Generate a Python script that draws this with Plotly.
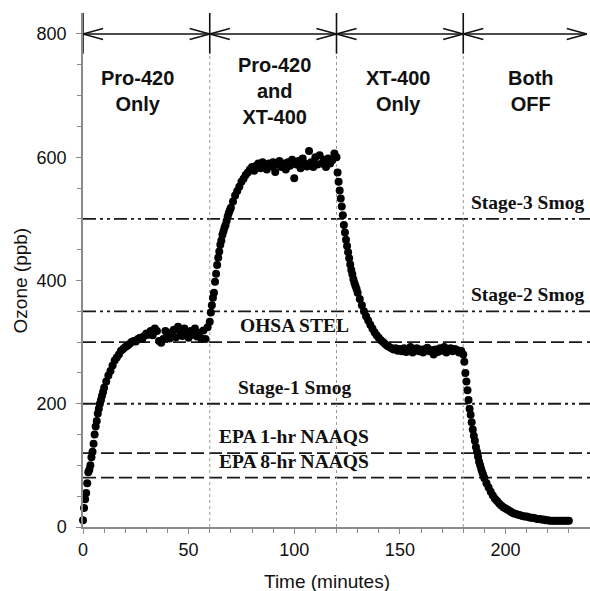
import plotly.graph_objects as go

# ---------------- data ----------------
# Each block: start minute, sampling step (min), ozone readings (ppb)
rise1_start, rise1_step = 0, 0.5
rise1_o3 = [11, 31, 45, 55, 71, 89, 93, 100, 113, 122, 135, 150, 163, 172, 184,
            192, 200, 206, 213, 219, 226]
plateau1_start, plateau1_step = 11, 1
plateau1_o3 = [236, 246, 253, 262, 270, 275, 280, 286, 289, 292, 294, 297, 300, 302,
               301, 305, 307, 305, 310, 314, 312, 318, 311, 322, 318, 302, 299, 305,
               318, 312, 306, 316, 320, 308, 325, 318, 310, 322, 316, 307, 318, 312,
               322, 309, 315, 306, 319, 305, 324]
rise2_start, rise2_step = 60, 0.5
rise2_o3 = [333, 348, 360, 372, 380, 398, 411, 425, 437, 447, 458, 465, 474, 480,
            486, 490, 497, 504, 509, 514, 518]
plateau2_start, plateau2_step = 71, 1
plateau2_o3 = [528, 538, 545, 552, 560, 565, 571, 575, 580, 584, 578, 586, 590, 582,
               592, 586, 580, 590, 585, 592, 576, 588, 594, 584, 590, 580, 592, 586,
               596, 566, 588, 594, 582, 598, 590, 585, 610, 592, 584, 600, 588, 603,
               590, 596, 584, 598, 590, 595, 606]
fall1_start, fall1_step = 120, 0.5
fall1_o3 = [600, 575, 560, 546, 533, 520, 506, 490, 478, 466, 456, 446, 436, 426,
            417, 410, 402, 396, 391, 386, 380]
plateau3_start, plateau3_step = 131, 1
plateau3_o3 = [370, 360, 350, 342, 335, 328, 322, 316, 311, 307, 303, 300, 297, 294,
               292, 290, 288, 290, 286, 289, 285, 290, 284, 288, 292, 283, 287, 290,
               285, 288, 283, 289, 291, 285, 287, 280, 288, 284, 290, 286, 292, 283,
               288, 290, 285, 289, 287, 283, 286]
fall2_start, fall2_step = 180, 0.5
fall2_o3 = [280, 268, 250, 236, 222, 206, 192, 182, 170, 158, 148, 140, 130, 122,
            114, 106, 100, 94, 89, 84, 79]
tail_start, tail_step = 191, 1
tail_o3 = [71, 64, 57, 51, 46, 42, 38, 35, 32, 30, 28, 26, 24, 22, 21, 20, 19, 18,
           17, 17, 16, 15, 15, 14, 13, 13, 12, 12, 11, 11, 10, 10, 10, 10, 10, 10,
           10, 10, 10, 10]

blocks = [
    (rise1_start, rise1_step, rise1_o3),
    (plateau1_start, plateau1_step, plateau1_o3),
    (rise2_start, rise2_step, rise2_o3),
    (plateau2_start, plateau2_step, plateau2_o3),
    (fall1_start, fall1_step, fall1_o3),
    (plateau3_start, plateau3_step, plateau3_o3),
    (fall2_start, fall2_step, fall2_o3),
    (tail_start, tail_step, tail_o3),
]

# reference levels
ref_names = ["Stage-3 Smog", "Stage-2 Smog", "OHSA STEL", "Stage-1 Smog",
             "EPA 1-hr NAAQS", "EPA 8-hr NAAQS"]
ref_values = [500, 350, 300, 200, 120, 80]
ref_styles = ["dashdotdot", "dashdotdot", "dash", "dashdotdot", "dash", "dash"]
ref_label_x = [210.5, 210.5, 100, 100, 100, 100]

# phases
phase_bounds = [0, 60, 120, 180]
phase_end = 238.5
phase_labels = ["Pro-420<br>Only", "Pro-420<br>and<br>XT-400", "XT-400<br>Only",
                "Both<br>OFF"]
phase_label_x = [26, 90.7, 149, 212]

x_ticks = [0, 50, 100, 150, 200]
y_ticks = [0, 200, 400, 600, 800]

X_MAX, Y_MAX = 240, 834
ARROW_Y = 800

# ---------------- build ----------------
time, ozone = [], []
for start, step, vals in blocks:
    for i, v in enumerate(vals):
        time.append(start + i * step)
        ozone.append(v)

fig = go.Figure()

dash_map = {"dash": "13px,5px", "dashdotdot": "13px,4px,3px,4px,3px,4px"}

shapes = []
# reference lines
for val, sty in zip(ref_values, ref_styles):
    shapes.append(dict(type="line", xref="x", yref="y", x0=0, x1=X_MAX, y0=val, y1=val,
                       line=dict(color="#1a1a1a", width=1.8, dash=dash_map[sty]),
                       layer="below"))
# phase separators
for b in phase_bounds:
    if b > 0:
        shapes.append(dict(type="line", xref="x", yref="y", x0=b, x1=b, y0=0, y1=768,
                           line=dict(color="#9a9a9a", width=1, dash="dot"),
                           layer="below"))
    shapes.append(dict(type="line", xref="x", yref="y", x0=b, x1=b, y0=768, y1=Y_MAX,
                       line=dict(color="#111111", width=1.6)))

# arrow line and heads
L, H = 9.5, 9.0
ends = phase_bounds + [phase_end]
ax, ay = [0, phase_end, None], [ARROW_Y, ARROW_Y, None]
for a, b in zip(ends[:-1], ends[1:]):
    ax += [a + L, a, a + L, None, b - L, b, b - L, None]
    ay += [ARROW_Y + H, ARROW_Y, ARROW_Y - H, None, ARROW_Y + H, ARROW_Y, ARROW_Y - H, None]
fig.add_trace(go.Scatter(x=ax, y=ay, mode="lines", line=dict(color="#111111", width=1.5),
                         hoverinfo="skip", showlegend=False, cliponaxis=False))

fig.add_trace(go.Scatter(x=time, y=ozone, mode="markers",
                         marker=dict(color="black", size=8), showlegend=False,
                         cliponaxis=False))

annotations = []
for name, val, lx in zip(ref_names, ref_values, ref_label_x):
    annotations.append(dict(x=lx, y=val, xref="x", yref="y", text="<b>%s</b>" % name,
                            showarrow=False, yanchor="bottom", yshift=4,
                            font=dict(family="Liberation Serif", size=19.5, color="#111")))
for lab, lx in zip(phase_labels, phase_label_x):
    annotations.append(dict(x=lx, y=707, xref="x", yref="y", text="<b>%s</b>" % lab,
                            showarrow=False, yanchor="middle",
                            font=dict(family="Liberation Sans", size=20, color="#111")))
annotations.append(dict(x=0.481, y=-0.107, xref="paper", yref="paper",
                        text="Time (minutes)", showarrow=False, yanchor="middle",
                        font=dict(family="Liberation Sans", size=19, color="#111")))
annotations.append(dict(x=-0.124, y=0.48, xref="paper", yref="paper",
                        text="Ozone (ppb)", showarrow=False, textangle=-90,
                        xanchor="center", yanchor="middle",
                        font=dict(family="Liberation Sans", size=19, color="#111")))

axis_common = dict(showgrid=False, zeroline=False, showline=True, linecolor="#8a8a8a",
                   linewidth=1.5, ticks="outside", tickcolor="#8a8a8a", tickwidth=1.2,
                   ticklen=5, tickfont=dict(family="Liberation Sans", size=18, color="#111"))

fig.update_layout(
    width=590, height=591,
    margin=dict(l=83, r=0, t=13, b=64),
    paper_bgcolor="white", plot_bgcolor="white",
    shapes=shapes, annotations=annotations,
    xaxis=dict(range=[0, X_MAX], tickvals=x_ticks, ticklabelstandoff=1,
               minor=dict(dtick=10, tick0=0, ticks="outside", ticklen=4,
                          tickcolor="#8a8a8a", tickwidth=1.2),
               **axis_common),
    yaxis=dict(range=[0, Y_MAX], tickvals=y_ticks, ticklabelstandoff=6,
               minor=dict(dtick=50, tick0=0, ticks="outside", ticklen=4,
                          tickcolor="#8a8a8a", tickwidth=1.2),
               **axis_common),
)

fig.write_html("out.html", config={"displayModeBar": False},
               post_script="document.body.style.margin='0';document.body.style.overflow='hidden';")
